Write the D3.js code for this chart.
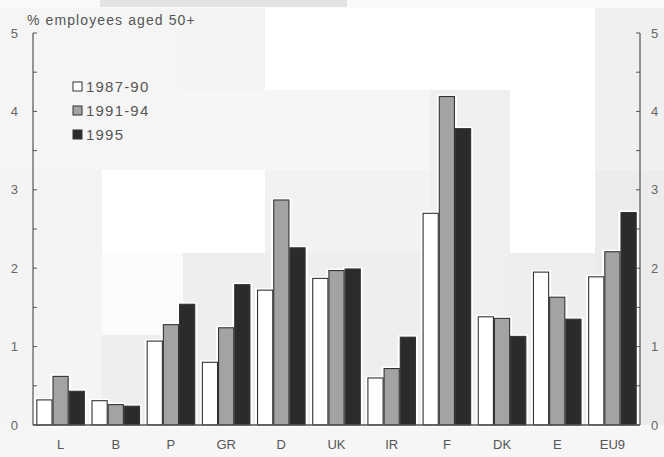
<!DOCTYPE html>
<html>
<head>
<meta charset="utf-8">
<script src="https://cdn.jsdelivr.net/npm/d3@7"></script>
<style>
  html, body { margin: 0; padding: 0; background: #ffffff; }
  svg { display: block; font-family: "Liberation Sans", Arial, sans-serif; }
</style>
</head>
<body>
<svg id="chart" width="664" height="457"></svg>
<script>
// Countries along the x axis
const categories = ["L", "B", "P", "GR", "D", "UK", "IR", "F", "DK", "E", "EU9"];
const xLabels = ["L", "B", "P", "GR", "D", "UK", "IR", "F", "DK", "E", "EU9"];

// Series: share of employees aged 50+ (%)
const seriesNames = ["1987-90", "1991-94", "1995"];
const values8790 = [0.32, 0.31, 1.07, 0.80, 1.72, 1.87, 0.60, 2.70, 1.38, 1.95, 1.89];
const values9194 = [0.62, 0.26, 1.28, 1.24, 2.87, 1.97, 0.72, 4.19, 1.36, 1.63, 2.21];
const values1995 = [0.43, 0.24, 1.54, 1.79, 2.26, 1.99, 1.12, 3.78, 1.13, 1.35, 2.71];

const yTicks = [0, 1, 2, 3, 4, 5];
const yMinorTicks = [0.5, 1.5, 2.5, 3.5, 4.5];

const seriesValues = [values8790, values9194, values1995];
const fills = ["#ffffff", "#a3a3a3", "#2b2b2b"];

const svg = d3.select("#chart");

// Paper tone: soft grey patches behind the plot
const patches = [
  [0, 0, 664, 457, "#f6f6f6"],
  [0, 0, 664, 8, "#fafafa"],
  [265, 8, 330, 82, "#ffffff"],
  [102, 170, 163, 83, "#ffffff"],
  [510, 90, 85, 163, "#ffffff"],
  [102, 253, 81, 82, "#fbfbfb"],
  [183, 8, 82, 82, "#f3f3f3"],
  [0, 8, 183, 162, "#f5f5f5"],
  [265, 170, 165, 83, "#f2f2f2"],
  [430, 90, 80, 335, "#efefef"],
  [183, 253, 247, 172, "#eeeeee"],
  [102, 335, 81, 90, "#ededed"],
  [510, 253, 85, 172, "#eeeeee"],
  [595, 8, 69, 162, "#f0f0f0"],
  [595, 170, 69, 255, "#ececec"],
  [0, 170, 102, 255, "#f4f4f4"],
  [100, 0, 247, 7, "#e4e4e4"]
];
svg.append("g").selectAll("rect").data(patches).join("rect")
  .attr("x", d => d[0]).attr("y", d => d[1])
  .attr("width", d => d[2]).attr("height", d => d[3])
  .attr("fill", d => d[4]);

const plotLeft = 33, plotRight = 640, plotTop = 33, plotBottom = 425;

const x = d3.scaleBand().domain(categories).range([plotLeft, plotRight])
  .paddingInner(0.12).paddingOuter(0.06);
const xs = d3.scaleBand().domain(seriesNames).range([0, x.bandwidth()]);
const y = d3.scaleLinear().domain([0, 5]).range([plotBottom, plotTop]);

// Bars: white halo first, then the outlined bar
const rows = [];
categories.forEach((c, i) => {
  seriesNames.forEach((s, j) => rows.push({ c, s, j, v: seriesValues[j][i] }));
});

const bars = svg.append("g");
bars.selectAll("rect.halo").data(rows).join("rect")
  .attr("class", "halo")
  .attr("x", d => x(d.c) + xs(d.s))
  .attr("y", d => y(d.v))
  .attr("width", xs.bandwidth())
  .attr("height", d => y(0) - y(d.v))
  .attr("fill", "#ffffff")
  .attr("stroke", "#ffffff")
  .attr("stroke-width", 4);
bars.selectAll("rect.bar").data(rows).join("rect")
  .attr("class", "bar")
  .attr("x", d => x(d.c) + xs(d.s) + 0.5)
  .attr("y", d => y(d.v))
  .attr("width", xs.bandwidth() - 1)
  .attr("height", d => y(0) - y(d.v))
  .attr("fill", d => fills[d.j])
  .attr("stroke", "#333333")
  .attr("stroke-width", 1.1);

// Axes
const axisColor = "#555555";
const leftAxis = d3.axisLeft(y).tickValues(yTicks).tickSize(0).tickPadding(15)
  .tickFormat(d3.format("d"));
const rightAxis = d3.axisRight(y).tickValues(yTicks).tickSize(0).tickPadding(11)
  .tickFormat(d3.format("d"));

function styleAxis(g) {
  g.select(".domain").remove();
  g.selectAll("text").attr("fill", "#666666").attr("font-size", 13);
}
svg.append("g").attr("transform", `translate(${plotLeft},0)`).call(leftAxis).call(styleAxis);
svg.append("g").attr("transform", `translate(${plotRight},0)`).call(rightAxis).call(styleAxis);

const lines = svg.append("g").attr("stroke", axisColor).attr("fill", "none");
lines.append("line").attr("x1", plotLeft).attr("x2", plotLeft).attr("y1", y(5)).attr("y2", y(0)).attr("stroke-width", 1.2);
lines.append("line").attr("x1", plotRight).attr("x2", plotRight).attr("y1", y(5)).attr("y2", y(0)).attr("stroke-width", 1.2);
lines.append("line").attr("x1", plotLeft).attr("x2", plotRight).attr("y1", y(0)).attr("y2", y(0)).attr("stroke-width", 1.4);

const allTicks = yTicks.concat(yMinorTicks);
lines.selectAll("line.tl").data(allTicks).join("line").attr("class", "tl")
  .attr("x1", plotLeft).attr("x2", plotLeft + 4).attr("y1", d => y(d)).attr("y2", d => y(d));
lines.selectAll("line.tr").data(allTicks).join("line").attr("class", "tr")
  .attr("x1", plotRight - 4).attr("x2", plotRight).attr("y1", d => y(d)).attr("y2", d => y(d));

// Category labels
svg.append("g").selectAll("text").data(categories).join("text")
  .attr("x", d => x(d) + x.bandwidth() / 2)
  .attr("y", 449)
  .attr("text-anchor", "middle")
  .attr("font-size", 13)
  .attr("fill", "#555555")
  .text((d, i) => xLabels[i]);

// Axis title
svg.append("text")
  .attr("x", 27).attr("y", 25)
  .attr("font-size", 14)
  .attr("letter-spacing", 1.1)
  .attr("fill", "#555555")
  .text("% employees aged 50+");

// Legend
const legend = svg.append("g").attr("transform", "translate(73,82)");
const li = legend.selectAll("g").data(seriesNames).join("g")
  .attr("transform", (d, i) => `translate(0,${i * 24})`);
li.append("rect").attr("width", 9).attr("height", 9)
  .attr("fill", (d, i) => fills[i]).attr("stroke", "#333333").attr("stroke-width", 1);
li.append("text").attr("x", 13).attr("y", 9.5)
  .attr("font-size", 15)
  .attr("letter-spacing", 1.2)
  .attr("fill", "#555555")
  .text(d => d);
</script>
</body>
</html>
